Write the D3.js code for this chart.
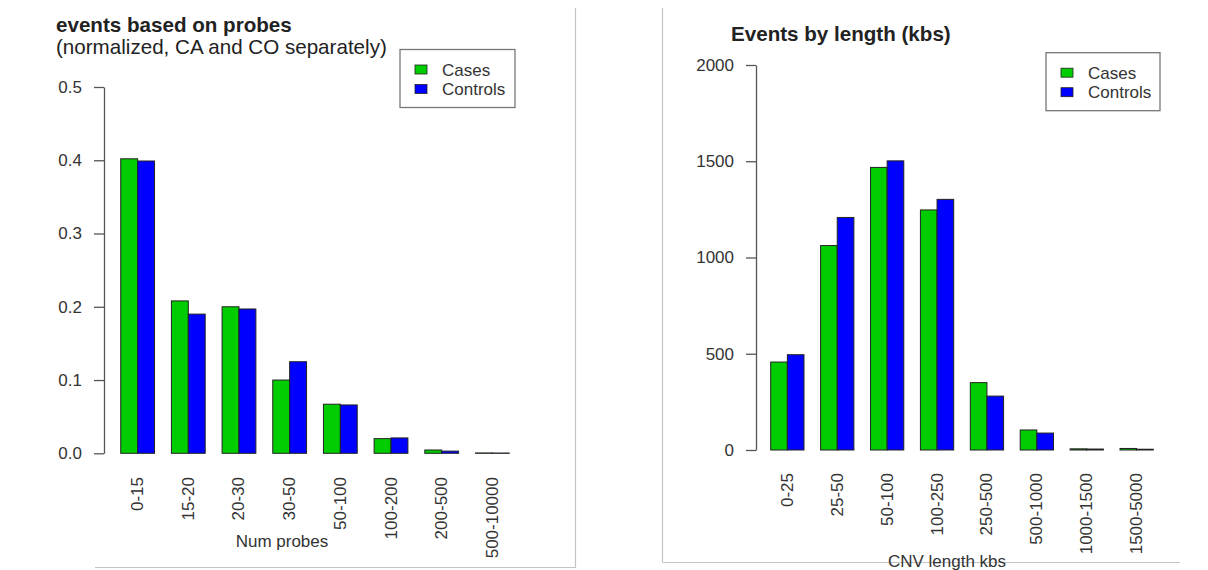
<!DOCTYPE html>
<html>
<head>
<meta charset="utf-8">
<script src="https://cdn.jsdelivr.net/npm/d3@7"></script>
<style>
  html, body { margin: 0; padding: 0; background: #fff; }
  svg { display: block; font-family: "Liberation Sans", Arial, Helvetica, sans-serif; }
</style>
</head>
<body>
<svg id="chart" width="1208" height="570"></svg>
<script>
// Left panel: share of events by number of probes
const probeBins = ["0-15", "15-20", "20-30", "30-50", "50-100", "100-200", "200-500", "500-10000"];
const probeCases = [0.402, 0.208, 0.200, 0.100, 0.067, 0.020, 0.0045, 0.0005];
const probeControls = [0.399, 0.190, 0.197, 0.125, 0.066, 0.021, 0.003, 0.0004];
const probeTicks = [0, 0.1, 0.2, 0.3, 0.4, 0.5];

// Right panel: event counts by CNV length
const lengthBins = ["0-25", "25-50", "50-100", "100-250", "250-500", "500-1000", "1000-1500", "1500-5000"];
const lengthCases = [457, 1062, 1468, 1247, 350, 104, 6, 8];
const lengthControls = [495, 1208, 1502, 1302, 280, 88, 5, 4];
const lengthTicks = [0, 500, 1000, 1500, 2000];

const groups = ["Cases", "Controls"];
const colors = { Cases: "#00cd00", Controls: "#0000ff" };

const svg = d3.select("#chart");

// Panel frame lines
const frame = svg.append("g").attr("stroke", "#c4c4c4").attr("stroke-width", 1.2);
frame.append("line").attr("x1", 575.5).attr("x2", 575.5).attr("y1", 8).attr("y2", 568);
frame.append("line").attr("x1", 95).attr("x2", 575.5).attr("y1", 567.5).attr("y2", 567.5);
frame.append("line").attr("x1", 662.5).attr("x2", 662.5).attr("y1", 8).attr("y2", 562);
frame.append("line").attr("x1", 662.5).attr("x2", 1180).attr("y1", 562.5).attr("y2", 562.5);

function panel(cfg) {
  const g = svg.append("g");
  const x = d3.scaleBand().domain(cfg.bins).range(cfg.xRange)
    .paddingInner(1 / 3).paddingOuter(1 / 6);
  const xi = d3.scaleBand().domain(groups).range([0, x.bandwidth()]);
  const y = d3.scaleLinear().domain(cfg.yDomain).range(cfg.yRange);

  // y axis
  const axis = d3.axisLeft(y).tickValues(cfg.ticks).tickFormat(cfg.fmt)
    .tickSize(10).tickSizeOuter(0).tickPadding(12);
  const ag = g.append("g").attr("transform", `translate(${cfg.axisX},0)`).call(axis);
  ag.select(".domain").attr("stroke", "#555").attr("stroke-width", 1.3);
  ag.selectAll(".tick line").attr("stroke", "#555").attr("stroke-width", 1.3);
  ag.selectAll(".tick text").attr("fill", "#333").style("font-size", "17px")
    .style("font-family", "Liberation Sans, Arial, sans-serif");

  // bars
  const rows = cfg.bins.map((b, i) => ({ bin: b, Cases: cfg.cases[i], Controls: cfg.controls[i] }));
  g.append("g").selectAll("g").data(rows).join("g")
    .attr("transform", d => `translate(${x(d.bin)},0)`)
    .selectAll("rect").data(d => groups.map(k => ({ key: k, value: d[k] }))).join("rect")
    .attr("x", d => xi(d.key))
    .attr("width", xi.bandwidth())
    .attr("y", d => y(d.value))
    .attr("height", d => y(0) - y(d.value))
    .attr("fill", d => colors[d.key])
    .attr("stroke", "#222")
    .attr("stroke-width", 1);

  // rotated category labels
  g.append("g").selectAll("text").data(cfg.bins).join("text")
    .attr("transform", d => `translate(${x(d) + x.bandwidth() / 2},${cfg.labelTop}) rotate(-90)`)
    .attr("text-anchor", "end")
    .attr("dominant-baseline", "central")
    .attr("fill", "#333")
    .style("font-size", "17px")
    .text(d => d);

  // x axis title
  g.append("text").attr("x", cfg.xTitle[0]).attr("y", cfg.xTitle[1])
    .attr("text-anchor", "middle").attr("fill", "#333").style("font-size", "17px")
    .text(cfg.xLabel);

  // chart titles
  cfg.titles.forEach(t => {
    g.append("text").attr("x", t.x).attr("y", t.y)
      .attr("fill", "#222")
      .style("font-size", "20.6px")
      .style("font-weight", t.bold ? "bold" : "normal")
      .text(t.text);
  });

  // legend
  const L = cfg.legend;
  const lg = g.append("g");
  lg.append("rect").attr("x", L.x).attr("y", L.y).attr("width", L.w).attr("height", L.h)
    .attr("fill", "#fff").attr("stroke", "#777").attr("stroke-width", 1.3);
  groups.forEach((k, i) => {
    const cy = L.y + L.first + i * L.step;
    lg.append("rect").attr("x", L.x + 15).attr("y", cy - 4.5).attr("width", 12).attr("height", 9)
      .attr("fill", colors[k]).attr("stroke", "#222").attr("stroke-width", 0.8);
    lg.append("text").attr("x", L.x + 42).attr("y", cy + 6)
      .attr("fill", "#333").style("font-size", "17px").text(k);
  });
}

panel({
  bins: probeBins, cases: probeCases, controls: probeControls,
  ticks: probeTicks, fmt: d3.format(".1f"),
  xRange: [112.3, 517.7], yDomain: [0, 0.5], yRange: [453.3, 87],
  axisX: 104, labelTop: 477, xLabel: "Num probes", xTitle: [282, 547],
  titles: [
    { text: "events based on probes", x: 56, y: 31.5, bold: true },
    { text: "(normalized, CA and CO separately)", x: 56, y: 53.5, bold: false }
  ],
  legend: { x: 400, y: 49.5, w: 115, h: 58, first: 20, step: 19.5 }
});

panel({
  bins: lengthBins, cases: lengthCases, controls: lengthControls,
  ticks: lengthTicks, fmt: d3.format("d"),
  xRange: [762.4, 1161.6], yDomain: [0, 2000], yRange: [450, 65],
  axisX: 756, labelTop: 473, xLabel: "CNV length kbs", xTitle: [947, 567],
  titles: [
    { text: "Events by length (kbs)", x: 731, y: 40.5, bold: true }
  ],
  legend: { x: 1046, y: 52.7, w: 114, h: 58, first: 20, step: 19.5 }
});
</script>
</body>
</html>
